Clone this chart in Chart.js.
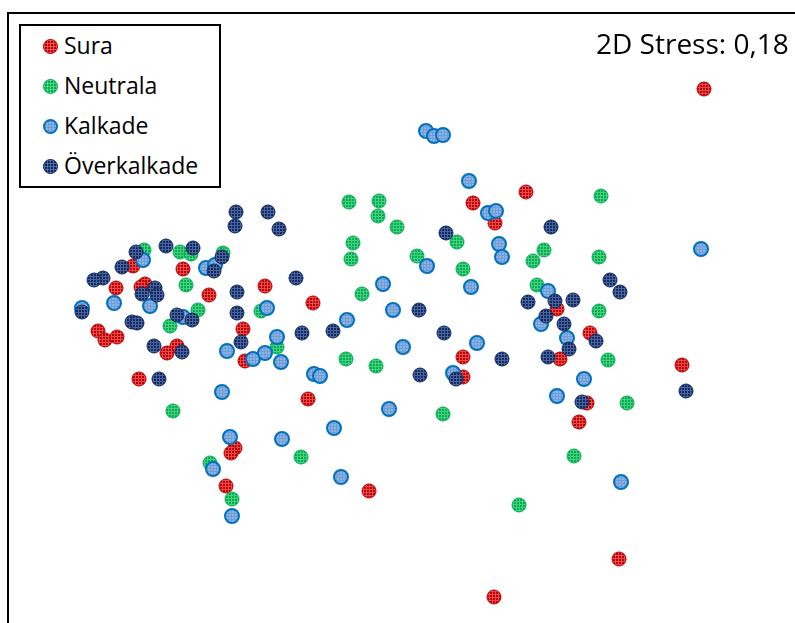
<!DOCTYPE html>
<html>
<head>
<meta charset="utf-8">
<script src="https://cdn.jsdelivr.net/npm/chart.js@4"></script>
<style>
  body { margin: 0; background: #fff; font-family: "Open Sans", sans-serif; }
  #wrap { position: relative; width: 795px; height: 623px; overflow: hidden; }
  #frame { position: absolute; left: 7px; top: 12px; width: 820px; height: 700px;
           border-left: 2px solid #000; border-top: 2px solid #000; }
  #legend { position: absolute; left: 19px; top: 24px; width: 198px; height: 160px;
            border: 2px solid #000; background: #fff; }
  .item { position: absolute; left: 64px; font-size: 23px; line-height: 23px; color: #000; white-space: nowrap; }
  .dot { position: absolute; width: 15px; height: 15px; border-radius: 50%; box-sizing: border-box;
         background-size: 3px 3px; }
  #stress { position: absolute; left: 596px; top: 29px; font-size: 28px; line-height: 28px; color: #000; white-space: nowrap; }
</style>
</head>
<body>
<div id="wrap">
  <canvas id="nmds"></canvas>
  <div id="frame"></div>
  <div id="legend"></div>
  <div id="legend-items"></div>
  <div id="stress">2D Stress: 0,18</div>
</div>
<script>
// point positions (x to the right, y downward)
const sura = [
  [704,89],[526,192],[473,203],[495,223],[133,266],[183,269],[116,288],[145,284],[141,287],
  [265,286],[209,295],[313,303],[98,331],[105,340],[117,337],[243,329],[177,346],[167,353],
  [245,361],[139,379],[463,357],[463,377],[557,309],[590,333],[560,359],[682,365],[587,403],
  [579,422],[308,399],[235,448],[231,453],[226,486],[369,491],[619,559],[494,597]
];
const neutrala = [
  [349,202],[379,201],[378,216],[397,227],[601,196],[457,242],[353,243],[351,259],[417,256],
  [463,269],[544,250],[533,261],[599,257],[537,285],[599,311],[608,360],[627,403],[574,456],
  [519,505],[443,414],[362,294],[346,359],[376,366],[301,457],[144,250],[180,252],[191,254],
  [223,253],[186,285],[261,311],[198,310],[170,326],[277,347],[173,411],[210,463],[232,499]
];
const kalkade = [
  [426,131],[434,136],[443,135],[469,181],[488,213],[496,211],[499,244],[502,257],[427,266],
  [383,284],[471,287],[393,310],[347,320],[477,343],[403,347],[281,362],[314,374],[320,376],
  [453,373],[389,409],[334,428],[282,439],[341,477],[701,249],[548,291],[541,324],[567,338],
  [584,379],[557,396],[621,482],[143,260],[206,268],[215,265],[150,306],[114,303],[82,308],
  [267,308],[183,317],[277,337],[227,351],[253,359],[265,353],[222,392],[230,437],[213,469],
  [232,516]
];
const overkalkade = [
  [236,212],[268,212],[235,226],[279,229],[446,233],[551,227],[166,246],[193,248],[136,252],
  [122,267],[222,257],[214,271],[103,278],[94,280],[155,288],[142,294],[157,295],[237,292],
  [296,278],[82,312],[237,313],[132,322],[137,323],[177,315],[192,320],[241,342],[154,346],
  [182,352],[302,333],[333,331],[419,310],[444,333],[420,375],[456,379],[610,280],[620,292],
  [528,302],[555,301],[573,300],[546,316],[564,324],[596,341],[569,349],[502,359],[548,357],
  [686,391],[582,402],[159,379]
];

const groups = ['Sura', 'Neutrala', 'Kalkade', 'Överkalkade'];
const fills = ['#C00000', '#00B050', '#8DB4E2', '#0F2A66'];
const grids = ['rgba(255,140,140,0.55)', 'rgba(150,235,180,0.5)', 'rgba(40,110,190,0.3)', 'rgba(150,170,210,0.45)'];
const borders = ['#C00000', '#00B050', '#0070C0', '#0F2A66'];

function makePattern(base, line) {
  const c = document.createElement('canvas');
  c.width = 3; c.height = 3;
  const g = c.getContext('2d');
  g.fillStyle = base;
  g.fillRect(0, 0, 3, 3);
  g.fillStyle = line;
  g.fillRect(0, 0, 3, 1);
  g.fillRect(0, 1, 1, 2);
  return g.createPattern(c, 'repeat');
}

const seriesData = [sura, neutrala, kalkade, overkalkade];

const ctx = document.getElementById('nmds');
ctx.width = 795; ctx.height = 623;

new Chart(ctx, {
  type: 'scatter',
  data: {
    datasets: groups.map((name, i) => ({
      label: name,
      data: seriesData[i].map(p => ({ x: p[0], y: p[1] })),
      backgroundColor: makePattern(fills[i], grids[i]),
      borderColor: borders[i],
      borderWidth: i === 2 ? 2 : 1,
      pointRadius: 7,
      pointHoverRadius: 7,
      order: 4 - i
    }))
  },
  options: {
    responsive: false,
    animation: false,
    layout: { padding: 0, autoPadding: false },
    plugins: { legend: { display: false }, tooltip: { enabled: false } },
    scales: {
      x: { type: 'linear', display: false, min: 0, max: 795 },
      y: { type: 'linear', display: false, min: 0, max: 623, reverse: true }
    }
  }
});

// legend rows
const items = document.getElementById('legend-items');
groups.forEach((name, i) => {
  const dot = document.createElement('div');
  dot.className = 'dot';
  dot.style.left = '43px';
  dot.style.top = (39 + i * 40) + 'px';
  dot.style.backgroundColor = fills[i];
  dot.style.backgroundImage = 'linear-gradient(' + grids[i] + ' 1px, transparent 1px), linear-gradient(90deg, ' + grids[i] + ' 1px, transparent 1px)';
  dot.style.border = (i === 2 ? 2 : 1) + 'px solid ' + borders[i];
  items.appendChild(dot);
  const label = document.createElement('div');
  label.className = 'item';
  label.style.top = (34 + i * 40) + 'px';
  label.textContent = name;
  items.appendChild(label);
});
</script>
</body>
</html>
